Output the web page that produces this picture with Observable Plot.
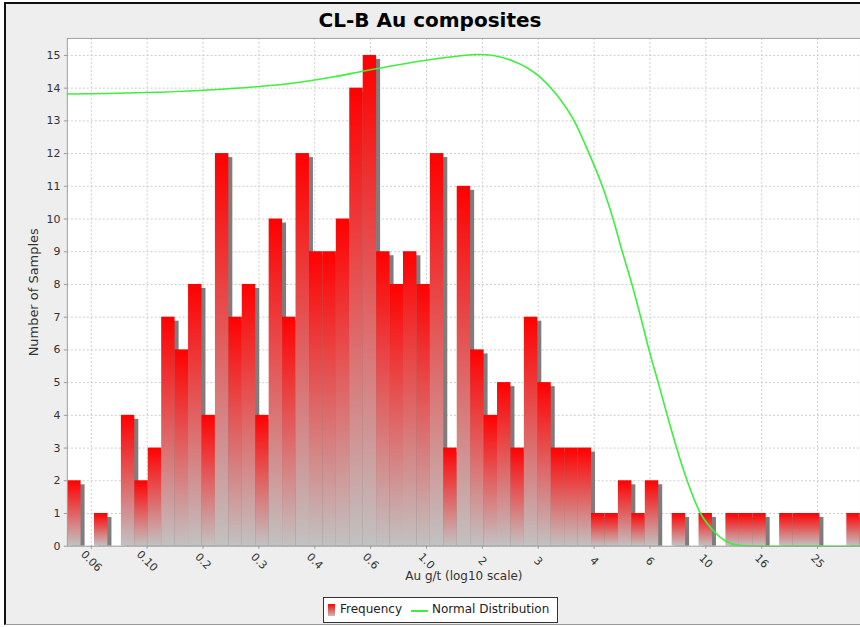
<!DOCTYPE html>
<html>
<head>
<meta charset="utf-8">
<script src="https://cdn.jsdelivr.net/npm/d3@7"></script>
<script src="https://cdn.jsdelivr.net/npm/@observablehq/plot@0.6"></script>
<style>
  html, body { margin: 0; padding: 0; background: #ffffff; }
  #wrap { position: relative; width: 860px; height: 627px; overflow: hidden; font-family: "DejaVu Sans", sans-serif; }
  #panel { position: absolute; left: 4px; top: 2px; width: 900px; height: 620px; background: #eeeeee;
           border-top: 2px solid #111; border-left: 2px solid #111; border-bottom: 1px solid #9a9a9a; }
  #chart { position: absolute; left: 0; top: 0; }
  #title { position: absolute; left: 0; top: 10px; width: 860px; text-align: center; font-weight: bold;
           font-size: 20px; line-height: 20px; color: #000; }
  #legend { position: absolute; left: 323px; top: 597px; width: 233px; height: 24px; background: #fff;
            border: 1px solid #333; font-size: 12px; color: #222; }
  #legend .sw { position: absolute; left: 4px; top: 6px; width: 7px; height: 12px; background: linear-gradient(#ff0000, #c0c0c0); }
  #legend .t1 { position: absolute; left: 16px; top: 4px; line-height: 15px; }
  #legend .ln { position: absolute; left: 87px; top: 12px; width: 17px; height: 2px; background: #3cf03c; }
  #legend .t2 { position: absolute; left: 108px; top: 4px; line-height: 15px; }
</style>
</head>
<body>
<div id="wrap">
  <div id="panel"></div>
  <div id="chart"></div>
  <div id="title">CL-B Au composites</div>
  <div id="legend">
    <div class="sw"></div><div class="t1">Frequency</div>
    <div class="ln"></div><div class="t2">Normal Distribution</div>
  </div>
</div>
<script>
// ---- Data ----
// Histogram: equal-width bins in log10 space
const binLogStart = -1.2846;   // log10 of first bin's lower edge
const binLogWidth = 0.04809;   // bin width in log10 units
const binCounts = [2, 0, 1, 0, 4, 2, 3, 7, 6, 8, 4, 12, 7, 8, 4, 10, 7, 12, 9, 9,
                   10, 14, 15, 9, 8, 9, 8, 12, 3, 11, 6, 4, 5, 3, 7, 5, 3, 3, 3, 1,
                   1, 2, 1, 2, 0, 1, 0, 1, 0, 1, 1, 1, 0, 1, 1, 1, 0, 0, 1];

// Normal distribution curve (scaled)
const curveX = [0.0518, 0.1546, 0.352, 0.4617, 0.6105, 1.025, 1.46, 1.546, 2.028, 2.533,
                2.905, 3.378, 3.821, 4.263, 4.655, 5.024, 5.441, 5.846, 6.259, 6.754,
                7.274, 7.861, 8.574, 9.575, 10.53, 11.76, 13.12, 15.46, 36.0];
const curveY = [13.82, 13.93, 14.18, 14.34, 14.54, 14.87, 15.02, 15.03, 14.84, 14.36,
                13.83, 13.0, 12.0, 11.0, 10.0, 9.0, 8.0, 7.0, 6.0, 5.0,
                4.0, 3.0, 2.0, 1.0, 0.52, 0.16, 0.03, 0.0, 0.0];

// Axis ticks
const xTickValues = [0.0631, 0.1, 0.1585, 0.2512, 0.3981, 0.631, 1, 1.585, 2.512, 3.981, 6.31, 10, 15.85, 25.12];
const xTickLabels = ["0.06", "0.10", "0.2", "0.3", "0.4", "0.6", "1.0", "2", "3", "4", "6", "10", "16", "25"];
const yTickValues = [0, 1, 2, 3, 4, 5, 6, 7, 8, 9, 10, 11, 12, 13, 14, 15];

const xDomain = [0.0518, 35.78];
const yDomain = [0, 15.52];

// ---- Build tables ----
const bins = binCounts.map((c, i) => ({
  lo: Math.pow(10, binLogStart + i * binLogWidth),
  hi: Math.pow(10, binLogStart + (i + 1) * binLogWidth),
  count: c
})).filter(d => d.count > 0);
const curve = curveX.map((x, i) => ({x, y: curveY[i]}));
const xTicks = xTickValues.map((v, i) => ({v, label: xTickLabels[i]}));

const defs = () => {
  const svgNS = "http://www.w3.org/2000/svg";
  const d = document.createElementNS(svgNS, "defs");
  d.innerHTML = `<linearGradient id="barGrad" x1="0" y1="0" x2="0" y2="1">
      <stop offset="0" stop-color="#ff0000"/>
      <stop offset="1" stop-color="#c2c2c2"/>
    </linearGradient>`;
  return d;
};

const chart = Plot.plot({
  width: 862,
  height: 627,
  marginLeft: 67,
  marginRight: 0,
  marginTop: 38,
  marginBottom: 80,
  style: {background: "transparent", fontFamily: "DejaVu Sans, sans-serif", fontSize: "11px", color: "#444"},
  x: {type: "log", domain: xDomain, axis: null},
  y: {domain: yDomain, axis: null},
  marks: [
    defs,
    Plot.frame({fill: "#ffffff"}),
    Plot.gridX(xTickValues, {stroke: "#cccccc", strokeOpacity: 1, strokeDasharray: "2,2"}),
    Plot.gridY(yTickValues, {stroke: "#cccccc", strokeOpacity: 1, strokeDasharray: "2,2"}),
    // shadows
    Plot.rect(bins, {x1: "lo", x2: "hi", y1: 0, y2: "count", dx: 4, insetTop: 4, fill: "#7d7d7d"}),
    // bars
    Plot.rect(bins, {x1: "lo", x2: "hi", y1: 0, y2: "count", fill: "url(#barGrad)"}),
    // normal distribution
    Plot.line(curve, {x: "x", y: "y", stroke: "#3cf03c", strokeWidth: 1.6, curve: "monotone-x"}),
    Plot.frame({stroke: "#a0a0a0"}),
    Plot.axisY({ticks: yTickValues, tickSize: 3, tickPadding: 4, label: null, stroke: "#999", fill: "#333"}),
    Plot.axisX({ticks: xTickValues, tickSize: 3, tickFormat: () => "", label: null, stroke: "#999"}),
    Plot.text(xTicks, {x: "v", text: "label", frameAnchor: "bottom", dy: 15, rotate: 45,
                       textAnchor: "middle", lineAnchor: "middle", fill: "#333", fontSize: 11}),
    Plot.text(["Au g/t (log10 scale)"], {frameAnchor: "bottom", dy: 25, lineAnchor: "top",
                       textAnchor: "middle", fill: "#333", fontSize: 12}),
    Plot.text(["Number of Samples"], {frameAnchor: "left", dx: -34, rotate: -90,
                       textAnchor: "middle", lineAnchor: "middle", fill: "#333", fontSize: 13})
  ]
});
document.getElementById("chart").appendChild(chart);
</script>
</body>
</html>
